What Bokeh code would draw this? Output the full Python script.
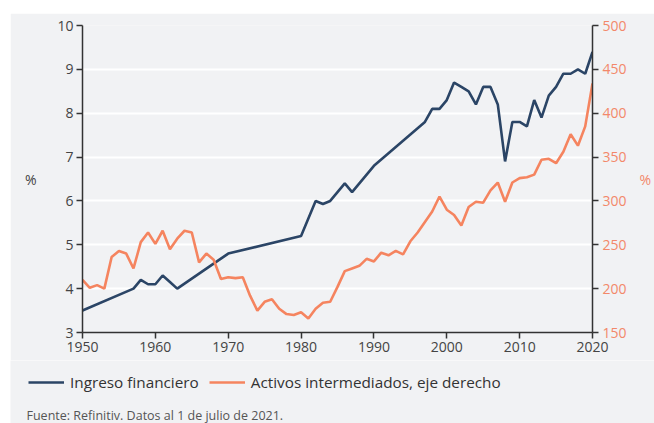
from bokeh.plotting import figure
from bokeh.models import (Range1d, LinearAxis, FixedTicker, Legend, LegendItem, Label)
from bokeh.embed import file_html
from bokeh.resources import INLINE

# Ingreso financiero (% , left axis)
years_ing = [1950, 1957, 1958, 1959, 1960, 1961, 1962, 1963, 1970, 1980, 1982, 1983,
             1984, 1985, 1986, 1987, 1990, 1997, 1998, 1999, 2000, 2001, 2002, 2003,
             2004, 2005, 2006, 2007, 2008, 2009, 2010, 2011, 2012, 2013, 2014, 2015,
             2016, 2017, 2018, 2019, 2020]
ingreso = [3.5, 4.0, 4.2, 4.1, 4.1, 4.3, 4.15, 4.0, 4.8, 5.2, 6.0, 5.93,
           6.0, 6.2, 6.4, 6.2, 6.8, 7.8, 8.1, 8.1, 8.3, 8.7, 8.6, 8.5,
           8.2, 8.6, 8.6, 8.2, 6.9, 7.8, 7.8, 7.7, 8.3, 7.9, 8.4, 8.6,
           8.9, 8.9, 9.0, 8.9, 9.4]

# Activos intermediados (% , right axis)
years_act = list(range(1950, 2021))
activos = [210, 201, 204, 200, 236, 243, 240, 223, 253, 264, 251, 266, 245, 257, 266, 264,
           230, 240, 233, 211, 213, 212, 213, 192, 175, 185, 188, 177, 171, 170,
           173, 166, 177, 184, 185, 202, 220, 223, 226, 234, 231, 241, 238, 243, 239,
           254, 264, 276, 288, 305, 290, 284, 272, 293, 299, 298, 312, 321, 299,
           321, 326, 327, 330, 347, 348, 343, 356, 376, 363, 385, 434]

x_ticks = [1950, 1960, 1970, 1980, 1990, 2000, 2010, 2020]
left_ticks = [3, 4, 5, 6, 7, 8, 9, 10]
right_ticks = [150, 200, 250, 300, 350, 400, 450, 500]

BLUE = "#2b4566"
ORANGE = "#f5845f"
ORANGE_TXT = "#f3886a"
BG = "#f1f2f4"
FONT = "Open Sans"
AX = "#333333"
TXT = "#444444"

p = figure(width=644, height=347, output_backend="svg", toolbar_location=None,
           x_range=Range1d(1950, 2020), y_range=Range1d(3, 10),
           min_border_left=72, min_border_right=62, min_border_top=12, min_border_bottom=28)
p.margin = (13, 0, 0, 10)
p.border_fill_color = BG
p.background_fill_color = BG
p.outline_line_color = None
p.extra_y_ranges = {"right": Range1d(150, 500)}

# axes
p.xaxis.ticker = FixedTicker(ticks=x_ticks)
p.yaxis.ticker = FixedTicker(ticks=left_ticks)
for ax in (p.xaxis[0], p.yaxis[0]):
    ax.axis_line_color = AX
    ax.axis_line_width = 1.5
    ax.major_tick_line_color = AX
    ax.major_tick_line_width = 1.5
    ax.major_tick_out = 6
    ax.major_tick_in = 0
    ax.minor_tick_line_color = None
    ax.major_label_text_font = FONT
    ax.major_label_text_font_size = "14px"
    ax.major_label_text_color = TXT
    ax.major_label_standoff = 3

p.yaxis.axis_label = "%"
p.yaxis.axis_label_orientation = "horizontal"
p.yaxis.axis_label_text_font = FONT
p.yaxis.axis_label_text_font_style = "normal"
p.yaxis.axis_label_text_font_size = "14px"
p.yaxis.axis_label_text_color = TXT
p.yaxis.axis_label_standoff = 18

ry = LinearAxis(y_range_name="right", ticker=FixedTicker(ticks=right_ticks))
ry.axis_line_color = AX
ry.axis_line_width = 1.5
ry.major_tick_line_color = AX
ry.major_tick_line_width = 1.5
ry.major_tick_out = 6
ry.major_tick_in = 0
ry.minor_tick_line_color = None
ry.major_label_text_font = FONT
ry.major_label_text_font_size = "14px"
ry.major_label_text_color = ORANGE_TXT
ry.major_label_standoff = 4
ry.axis_label = "%"
ry.axis_label_orientation = "horizontal"
ry.axis_label_text_font = FONT
ry.axis_label_text_font_style = "normal"
ry.axis_label_text_font_size = "14px"
ry.axis_label_text_color = ORANGE_TXT
ry.axis_label_standoff = 10
p.add_layout(ry, "right")

p.xgrid.grid_line_color = None
p.ygrid.grid_line_color = "white"
p.ygrid.grid_line_width = 2

r1 = p.line(years_ing, ingreso, line_color=BLUE, line_width=2.6)
r2 = p.line(years_act, activos, line_color=ORANGE, line_width=2.6, y_range_name="right")

# second panel: legend + source note
p2 = figure(width=644, height=63, output_backend="svg", toolbar_location=None,
            x_range=Range1d(0, 644), y_range=Range1d(0, 63),
            min_border=0, x_axis_type=None, y_axis_type=None)
p2.margin = (0, 0, 0, 10)
p2.border_fill_color = BG
p2.background_fill_color = BG
p2.outline_line_color = None
p2.grid.visible = False

d1 = p2.line([0, 1], [-100, -100], line_color=BLUE, line_width=2.6)
d2 = p2.line([0, 1], [-100, -100], line_color=ORANGE, line_width=2.6)

legend = Legend(items=[LegendItem(label="Ingreso financiero", renderers=[d1]),
                       LegendItem(label="Activos intermediados, eje derecho", renderers=[d2])],
                orientation="horizontal", location=(18, 31),
                label_text_font=FONT, label_text_font_size="15.3px", label_text_color="#333333",
                glyph_width=36, label_standoff=6, spacing=10,
                background_fill_alpha=0, border_line_alpha=0, padding=0, margin=0)
p2.add_layout(legend, "center")

src = Label(x=16, y=8, text="Fuente: Refinitiv. Datos al 1 de julio de 2021.",
            text_font=FONT, text_font_size="12.5px", text_color="#555555",
            text_baseline="middle")
p2.add_layout(src)

open("out.html", "w").write(file_html([p, p2], INLINE))
